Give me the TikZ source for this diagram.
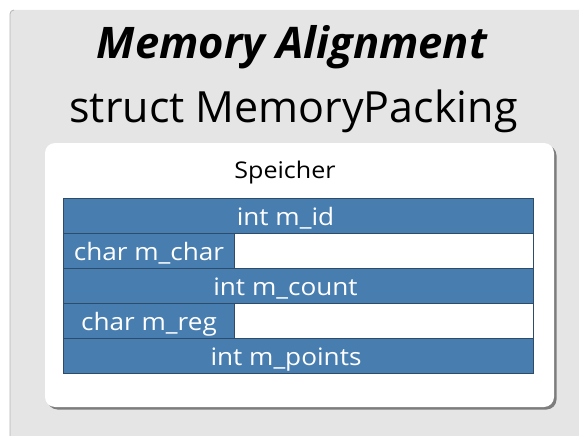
\documentclass[tikz,border=0pt]{standalone}
\usepackage{fontspec}
\setmainfont{Open Sans}
\newfontfamily\widefont[FakeStretch=1.09]{Open Sans}
\usetikzlibrary{shadows}
\definecolor{pagegray}{HTML}{E5E5E5}
\definecolor{pageedge}{HTML}{B4B4B4}
\definecolor{cellblue}{HTML}{477DAF}
\definecolor{celledge}{HTML}{2E4C6A}
\tikzset{
  cell/.style={draw=celledge, line width=0.8pt, fill=cellblue},
  gap/.style={draw=celledge, line width=0.8pt, fill=white},
  celltext/.style={text=white, font=\widefont\fontsize{24}{24}\selectfont, anchor=base, inner sep=0pt},
}
\begin{document}
\begin{tikzpicture}[x=1pt, y=-1pt]
\useasboundingbox (0,0) rectangle (579,436);
% page background with rounded top-left corner
\fill[pagegray] (10,440) -- (10,14) arc[start angle=180, end angle=270, radius=4] -- (583,10) -- (583,440) -- cycle;
\draw[pageedge, line width=0.8pt] (10,440) -- (10,14) arc[start angle=180, end angle=270, radius=4];
% titles
\node[anchor=base, inner sep=0pt, font=\fontsize{43.5}{43.5}\selectfont\bfseries\itshape] (title) at (292,59) {Memory Alignment};
\node[anchor=base, inner sep=0pt, font=\fontsize{43}{43}\selectfont] (subtitle) at (293.5,123) {struct MemoryPacking};
% white panel
\node[draw=none, fill=white, rounded corners=10pt, minimum width=509pt, minimum height=264pt,
      drop shadow={shadow xshift=2.5pt, shadow yshift=-2.5pt, fill=black, opacity=0.45}, inner sep=0pt] (panel) at (299.5,275) {};
\node[anchor=base, inner sep=0pt, font=\widefont\fontsize{23}{23}\selectfont] (mem) at (285,178) {Speicher};
% memory rows
\draw[cell] (63,198) rectangle (533,233);
\draw[gap] (234,233) rectangle (533,268);
\draw[cell] (63,233) rectangle (234,268);
\draw[cell] (63,268) rectangle (533,303);
\draw[gap] (234,303) rectangle (533,338);
\draw[cell] (63,303) rectangle (234,338);
\draw[cell] (63,338) rectangle (533,373);
\node[celltext] (id) at (285.5,225) {int m\_id};
\node[celltext] (ch) at (149,260) {char m\_char};
\node[celltext] (cnt) at (285.5,295) {int m\_count};
\node[celltext] (rg) at (149,330) {char m\_reg};
\node[celltext] (pts) at (286,365) {int m\_points};
\end{tikzpicture}
\end{document}
